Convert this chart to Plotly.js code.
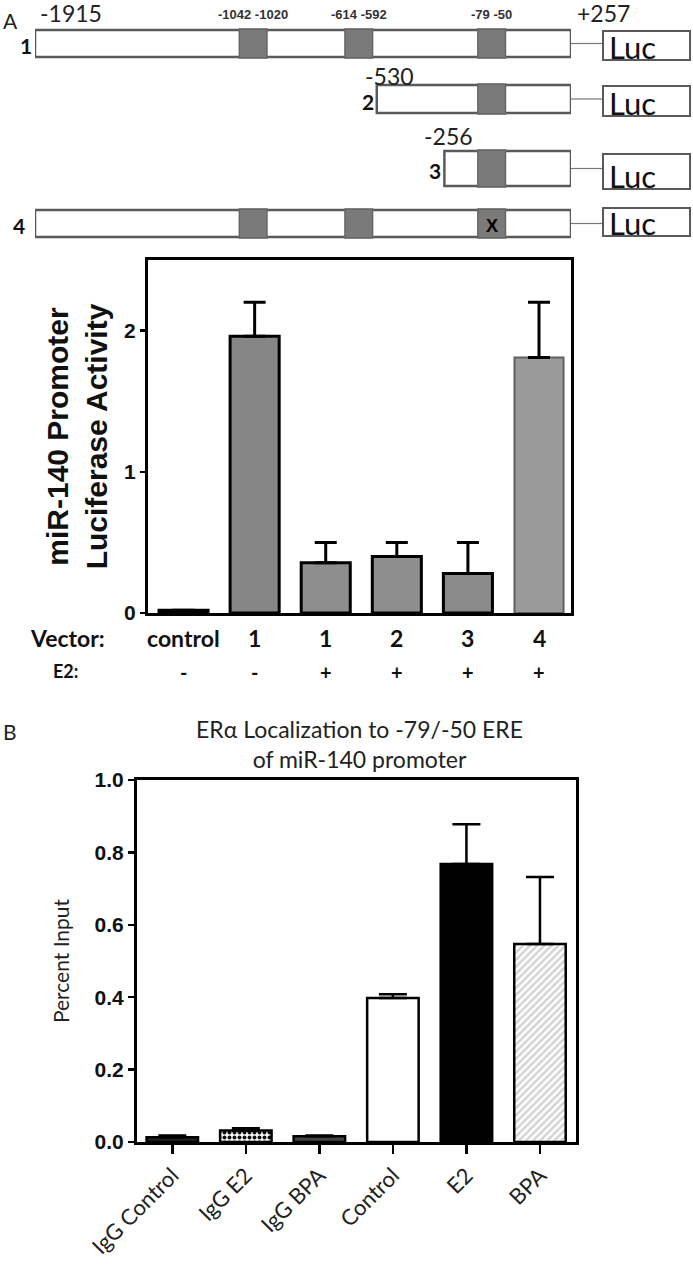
<!DOCTYPE html>
<html>
<head>
<meta charset="utf-8">
<script src="https://cdn.plot.ly/plotly-3.0.1.min.js"></script>
<style>
  body { margin: 0; background: #fff; }
  #fig { width: 693px; height: 1283px; }
</style>
</head>
<body>
<div id="fig"></div>
<script>
// ---- Panel A diagram: promoter constructs (bp relative to TSS) ----
const PROMOTER_END = 257;
const constructNames = ['1', '2', '3', '4'];
const constructStarts = [-1915, -530, -256, -1915];
const ereSites = [[-1042, -1020], [-614, -592], [-79, -50]];
const mutatedSite = [null, null, null, 2];   // construct 4 has the -79/-50 ERE mutated

// ---- Panel A bars: luciferase activity ----
const vectorLabels = ['control', '1', '1', '2', '3', '4'];
const e2Labels = ['-', '-', '+', '+', '+', '+'];
const lucActivity = [0.02, 1.96, 0.355, 0.40, 0.28, 1.81];
const lucError = [0, 0.24, 0.145, 0.10, 0.22, 0.39];

// ---- Panel B bars: ChIP percent input ----
const chipLabels = ['IgG Control', 'IgG E2', 'IgG BPA', 'Control', 'E2', 'BPA'];
const percentInput = [0.013, 0.032, 0.016, 0.398, 0.768, 0.547];
const percentError = [0.005, 0.006, 0.002, 0.01, 0.11, 0.185];

const W = 693, H = 1283;
const px = v => v / W;          // horizontal pixel -> paper
const py = v => 1 - v / H;      // vertical pixel (from top) -> paper

// diagram layout (pixel rows, from top)
const rowTop = [30, 85, 151, 210];
const rowBottom = [57, 113, 186, 237];
const lucTop = [31, 86, 154, 208];
const lucBottom = [60, 116, 189, 236];
const rowLabelShift = [-1, -1, -1, -8];
const SITE_HALF = 56;           // half width of drawn ERE box, bp
const idx = [0, 1, 2, 3, 4, 5];

const shapes = [];
const annotations = [];
const GREY_LINE = '#5a5a5a';

constructStarts.forEach((start, i) => {
  // promoter box
  shapes.push({type: 'rect', xref: 'x3', yref: 'y3', x0: start, x1: PROMOTER_END,
    y0: rowTop[i], y1: rowBottom[i], line: {color: GREY_LINE, width: 2.5}, fillcolor: '#fff', layer: 'above'});
  // ERE sites inside the construct
  ereSites.forEach((s, k) => {
    if (s[0] < start) return;
    const mid = (s[0] + s[1]) / 2;
    shapes.push({type: 'rect', xref: 'x3', yref: 'y3', x0: mid - SITE_HALF, x1: mid + SITE_HALF,
      y0: rowTop[i] - 1, y1: rowBottom[i] + 1, line: {color: '#666', width: 1.5}, fillcolor: '#7a7a7a', layer: 'above'});
    if (mutatedSite[i] === k) {
      annotations.push({xref: 'x3', yref: 'y3', x: mid, y: rowBottom[i] + 1, yanchor: 'bottom',
        text: '<b>X</b>', showarrow: false, font: {family: 'Liberation Sans Narrow, Liberation Sans', size: 18, color: '#000'}});
    }
  });
  // connector + Luc box
  const mid = (rowTop[i] + rowBottom[i]) / 2;
  shapes.push({type: 'line', xref: 'paper', yref: 'y3', x0: px(571), x1: px(603), y0: mid, y1: mid,
    line: {color: '#777', width: 1.2}});
  shapes.push({type: 'rect', xref: 'paper', yref: 'y3', x0: px(603), x1: px(690),
    y0: lucTop[i], y1: lucBottom[i], line: {color: GREY_LINE, width: 2}, fillcolor: '#fff'});
  annotations.push({xref: 'paper', yref: 'y3', x: px(607), y: lucBottom[i] + 8, xanchor: 'left', yanchor: 'bottom',
    text: 'Luc', showarrow: false, font: {family: 'Lato', size: 31, color: '#111'}});
  // construct number
  annotations.push({xref: 'x3', yref: 'y3', x: start, y: mid + 2, xanchor: 'right', xshift: rowLabelShift[i],
    text: '<b>' + constructNames[i] + '</b>', showarrow: false,
    font: {family: 'Lato', size: 21, color: '#111'}});
});

// coordinate labels
const numFont = {family: 'Lato', size: 23, color: '#222'};
annotations.push({xref: 'x3', yref: 'y3', x: -1915, y: 13, xanchor: 'left', xshift: 3, text: '-1915', showarrow: false, font: numFont});
annotations.push({xref: 'x3', yref: 'y3', x: PROMOTER_END, y: 13, xanchor: 'left', xshift: 4, text: '+257', showarrow: false, font: numFont});
annotations.push({xref: 'x3', yref: 'y3', x: constructStarts[1], y: 76, xanchor: 'left', xshift: -14, text: '-530', showarrow: false, font: numFont});
annotations.push({xref: 'x3', yref: 'y3', x: constructStarts[2], y: 136, xanchor: 'left', xshift: -22, text: '-256', showarrow: false, font: numFont});
ereSites.forEach(s => {
  annotations.push({xref: 'x3', yref: 'y3', x: (s[0] + s[1]) / 2, y: 14,
    text: '<b>' + s[0] + ' ' + s[1] + '</b>', showarrow: false,
    font: {family: 'Liberation Sans Narrow, Liberation Sans', size: 13, color: '#333'}});
});

// panel letters
annotations.push({xref: 'paper', yref: 'paper', x: px(1), y: py(21), xanchor: 'left', yanchor: 'middle', text: 'A', showarrow: false,
  font: {family: 'Lato', size: 21, color: '#222'}});
annotations.push({xref: 'paper', yref: 'paper', x: px(1), y: py(731), xanchor: 'left', yanchor: 'middle', text: 'B', showarrow: false,
  font: {family: 'Lato', size: 21, color: '#222'}});

// panel A category rows
const rowFont = {family: 'Lato', size: 23, color: '#111'};
annotations.push({xref: 'paper', yref: 'paper', x: px(107), y: py(638), xanchor: 'right', yanchor: 'middle',
  text: '<b>Vector:</b>', showarrow: false, font: rowFont});
annotations.push({xref: 'paper', yref: 'paper', x: px(80), y: py(671), xanchor: 'right', yanchor: 'middle',
  text: '<b>E2:</b>', showarrow: false, font: {family: 'Lato', size: 18, color: '#111'}});
idx.forEach(i => {
  annotations.push({xref: 'x', yref: 'paper', x: i, y: py(638), yanchor: 'middle', text: '<b>' + vectorLabels[i] + '</b>',
    showarrow: false, font: rowFont});
  annotations.push({xref: 'x', yref: 'paper', x: i, y: py(672), yanchor: 'middle', text: '<b>' + e2Labels[i] + '</b>',
    showarrow: false, font: {family: 'Lato', size: 20, color: '#111'}});
});

// panel B title
annotations.push({xref: 'paper', yref: 'paper', x: px(360), y: py(744), yanchor: 'middle',
  text: 'ERα Localization to -79/-50 ERE<br>of miR-140 promoter', showarrow: false,
  font: {family: 'Lato', size: 23, color: '#222'}});

const traceA = {
  type: 'bar', x: idx, y: lucActivity, xaxis: 'x', yaxis: 'y', width: 0.69,
  marker: {
    color: ['#111', '#868686', '#8e8e8e', '#8e8e8e', '#8a8a8a', '#9a9a9a'],
    line: {color: ['#000', '#000', '#000', '#000', '#000', '#606060'], width: [3, 3, 3, 3, 3, 2]}
  },
  error_y: {type: 'data', symmetric: false, array: lucError, arrayminus: lucError.map(() => 0),
    color: '#000', thickness: 3, width: 11},
  hoverinfo: 'skip'
};

const traceB = {
  type: 'bar', x: idx, y: percentInput, xaxis: 'x2', yaxis: 'y2', width: 0.7,
  marker: {
    color: ['#222', '#111', '#444', '#fff', '#000', '#d4d4d4'],
    line: {color: '#000', width: 2.5},
    pattern: {
      shape: ['', '.', '', '', '', '/'],
      fgcolor: ['#222', '#fff', '#444', '#fff', '#000', '#3c3c3c'],
      bgcolor: ['#222', '#111', '#444', '#fff', '#000', '#d4d4d4'],
      size: 5, solidity: 0.5, fillmode: 'replace'
    }
  },
  error_y: {type: 'data', symmetric: false, array: percentError, arrayminus: percentError.map(() => 0),
    color: '#000', thickness: 2.5, width: 14},
  hoverinfo: 'skip'
};

const axisLine = {showline: true, mirror: true, linecolor: '#000', linewidth: 3, showgrid: false, zeroline: false};
const narrowBold = {family: 'Liberation Sans Narrow, Liberation Sans', size: 21, color: '#111', weight: 'bold'};

const layout = {
  width: W, height: H,
  margin: {l: 0, r: 0, t: 0, b: 0},
  paper_bgcolor: '#fff', plot_bgcolor: 'rgba(0,0,0,0)',
  showlegend: false,
  xaxis: Object.assign({}, axisLine, {
    domain: [px(148), px(571)], anchor: 'y', range: [-0.5, 5.45],
    tickvals: idx, showticklabels: false, ticks: ''
  }),
  yaxis: Object.assign({}, axisLine, {
    domain: [py(613), py(260)], anchor: 'x', range: [0, 2.5],
    tickvals: [0, 1, 2], ticks: 'outside', ticklen: 5, tickwidth: 2.5, tickcolor: '#000',
    tickfont: narrowBold,
    title: {text: 'miR-140 Promoter<br>Luciferase Activity', standoff: 8,
      font: {family: 'Liberation Sans', size: 30, color: '#111', weight: 'bold'}}
  }),
  xaxis2: Object.assign({}, axisLine, {
    domain: [px(137), px(576)], anchor: 'y2', range: [-0.48, 5.49],
    tickvals: idx, ticktext: chipLabels, tickangle: -45,
    ticks: 'outside', ticklen: 9, tickwidth: 2.5, tickcolor: '#000',
    tickfont: {family: 'Lato', size: 22, color: '#222'}
  }),
  yaxis2: Object.assign({}, axisLine, {
    domain: [py(1142), py(780)], anchor: 'x2', range: [0, 1.0],
    dtick: 0.2, tickformat: '.1f', ticks: 'outside', ticklen: 6, tickwidth: 2.5, tickcolor: '#000',
    tickfont: narrowBold,
    title: {text: 'Percent Input', standoff: 20, font: {family: 'Lato', size: 21, color: '#222'}}
  }),
  xaxis3: {domain: [px(35), px(571)], anchor: 'y3', range: [-1915, PROMOTER_END], visible: false, fixedrange: true},
  yaxis3: {domain: [py(256), 1], anchor: 'x3', range: [256, 0], visible: false, fixedrange: true},
  shapes: shapes,
  annotations: annotations
};

Plotly.newPlot('fig', [traceA, traceB], layout, {staticPlot: true});
</script>
</body>
</html>
